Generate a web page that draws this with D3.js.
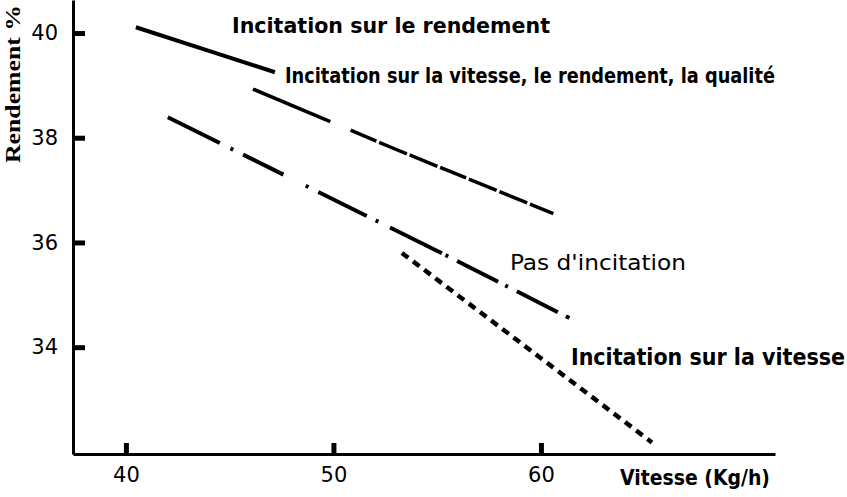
<!DOCTYPE html>
<html>
<head>
<meta charset="utf-8">
<script src="https://cdn.jsdelivr.net/npm/d3@7"></script>
<style>
  html, body { margin: 0; padding: 0; background: #fff; }
  svg { display: block; }
</style>
</head>
<body>
<svg id="chart" width="847" height="497"></svg>
<script>
// ---- data ----
const xTicks = [40, 50, 60];
const yTicks = [34, 36, 38, 40];

const seriesNames = [
  "Incitation sur le rendement",
  "Incitation sur la vitesse, le rendement, la qualité",
  "Pas d'incitation",
  "Incitation sur la vitesse"
];
const s1x = [40.48, 44.0, 47.18];
const s1y = [40.11, 39.66, 39.25];
const s2x = [46.12, 53.0, 60.6];
const s2y = [38.93, 37.78, 36.55];
const s3x = [42.02, 55.2, 61.40];
const s3y = [38.39, 35.80, 34.55];
const s4x = [53.30, 59.3, 65.35];
const s4y = [35.80, 34.0, 32.18];

const xTitle = "Vitesse (Kg/h)";
const yTitle = "Rendement %";

// ---- drawing ----
const svg = d3.select("#chart");
svg.append("rect").attr("width", 847).attr("height", 497).attr("fill", "#fff");

const x = d3.scaleLinear().domain([37.45, 71.28]).range([73, 775]);
const y = d3.scaleLinear().domain([31.96, 40.63]).range([454, 0]);

const narrow = "'Liberation Sans Narrow', 'DejaVu Sans Condensed', 'Arial Narrow', sans-serif";

// axes
const yAxis = d3.axisLeft(y).tickValues(yTicks).tickSizeInner(-12).tickSizeOuter(0).tickPadding(15).tickFormat(d3.format("d"));
const xAxis = d3.axisBottom(x).tickValues(xTicks).tickSizeInner(-11).tickSizeOuter(0).tickPadding(13).tickFormat(d3.format("d"));

const gy = svg.append("g").attr("transform", "translate(73,0)").call(yAxis);
const gx = svg.append("g").attr("transform", "translate(0,454)").call(xAxis);

[gx, gy].forEach(g => {
  g.select(".domain").attr("stroke", "#000").attr("stroke-width", 3);
  g.selectAll(".tick line").attr("stroke", "#000").attr("stroke-width", 5);
  g.selectAll(".tick text")
    .attr("fill", "#000")
    .style("font-family", "'DejaVu Sans', sans-serif")
    .style("font-size", "21px");
});

// series
const series = [
  { xs: s1x, ys: s1y, width: 4, dash: null },
  { xs: s2x, ys: s2y, width: 3.5, dash: "84,22,28,3,30,3,30,3,28,3,30,3,30,3,30" },
  { xs: s3x, ys: s3y, width: 4, dash: "58,12,3,11,45,25,3,11,54,10,3,13,58,4,3,10,46,8,3,10,46,9,4,20" },
  { xs: s4x, ys: s4y, width: 4.5, dash: "8,6" }
];
const line = d3.line().x(d => x(d[0])).y(d => y(d[1]));
series.forEach(s => {
  const pts = s.xs.map((v, i) => [v, s.ys[i]]);
  svg.append("path")
    .attr("d", line(pts))
    .attr("fill", "none")
    .attr("stroke", "#000")
    .attr("stroke-width", s.width)
    .attr("stroke-dasharray", s.dash);
});

// series labels
const labels = [
  { text: seriesNames[0], x: 232, y: 33, size: 22, len: 318, weight: "bold" },
  { text: seriesNames[1], x: 285, y: 83, size: 21, len: 490, weight: "bold" },
  { text: seriesNames[2], x: 510, y: 270, size: 21, len: 176, weight: "normal" },
  { text: seriesNames[3], x: 571, y: 365, size: 23, len: 274, weight: "bold" }
];
labels.forEach(l => {
  svg.append("text")
    .attr("x", l.x).attr("y", l.y)
    .attr("textLength", l.len).attr("lengthAdjust", "spacingAndGlyphs")
    .style("font-family", narrow)
    .style("font-weight", l.weight)
    .style("font-size", l.size + "px")
    .attr("fill", "#000")
    .text(l.text);
});

// axis titles
svg.append("text")
  .attr("x", 620).attr("y", 485)
  .attr("textLength", 150).attr("lengthAdjust", "spacingAndGlyphs")
  .style("font-family", narrow).style("font-weight", "bold").style("font-size", "21px")
  .attr("fill", "#000")
  .text(xTitle);

svg.append("text")
  .attr("transform", "translate(20,84) rotate(-90)")
  .attr("text-anchor", "middle")
  .attr("textLength", 158).attr("lengthAdjust", "spacingAndGlyphs")
  .style("font-family", "'Liberation Serif', 'DejaVu Serif', serif").style("font-weight", "bold").style("font-size", "22px")
  .attr("fill", "#000")
  .text(yTitle);
</script>
</body>
</html>
